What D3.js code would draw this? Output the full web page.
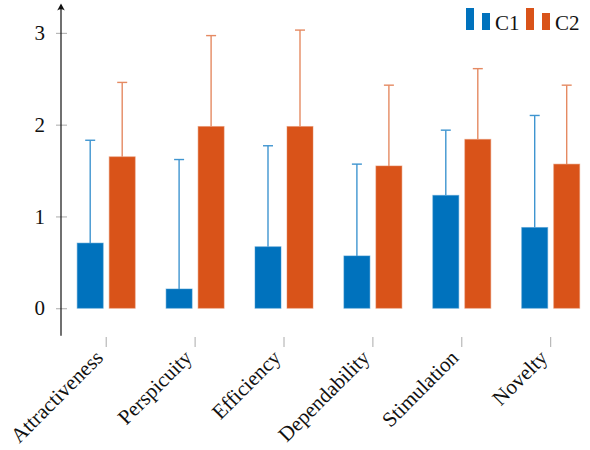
<!DOCTYPE html>
<html>
<head>
<meta charset="utf-8">
<script src="https://cdn.jsdelivr.net/npm/d3@7/dist/d3.min.js"></script>
<style>
  html, body { margin: 0; padding: 0; background: #fff; }
  svg { display: block; }
  text { font-family: "Liberation Serif", "Times New Roman", serif; fill: #111; }
</style>
</head>
<body>
<svg id="chart" width="590" height="450"></svg>
<script>
const categories = ["Attractiveness", "Perspicuity", "Efficiency", "Dependability", "Stimulation", "Novelty"];
const seriesNames = ["C1", "C2"];
const c1Values = [0.71, 0.21, 0.67, 0.57, 1.23, 0.88];
const c1Errors = [1.12, 1.41, 1.10, 1.00, 0.71, 1.22];
const c2Values = [1.65, 1.98, 1.98, 1.55, 1.84, 1.57];
const c2Errors = [0.81, 0.99, 1.05, 0.88, 0.77, 0.86];
const yTicks = [0, 1, 2, 3];
const colors = ["#0072BD", "#D95319"];
const strokeColors = ["#3f95d0", "#e58a62"];

const seriesValues = [c1Values, c2Values];
const seriesErrors = [c1Errors, c2Errors];

const svg = d3.select("#chart");

const y = d3.scaleLinear().domain([-0.3, 3.3]).range([335.8, 5.3]);
const x = d3.scaleBand().domain(categories).range([61.75, 61.75 + 6 * 88.9]).paddingInner(0).paddingOuter(0);
const xSub = d3.scaleBand().domain(seriesNames).range([x.bandwidth() / 2 - 29.5, x.bandwidth() / 2 + 29.5]).paddingInner(5 / 32).paddingOuter(0);

const axisX = 61;

// Y ticks (grey)
const yAxis = d3.axisLeft(y).tickValues(yTicks).tickSize(0).tickPadding(16).tickFormat(d3.format("d"));
const gy = svg.append("g").attr("transform", `translate(${axisX},0)`).call(yAxis);
gy.select(".domain").remove();
gy.selectAll(".tick text").style("font-size", "21px").style("font-family", "'Liberation Serif', serif").attr("fill", "#111");
gy.selectAll(".tick").append("line")
  .attr("x1", -5).attr("x2", 6).attr("y1", 0).attr("y2", 0)
  .attr("stroke", "#aaa").attr("stroke-width", 1);

// Bars
const groups = svg.append("g").selectAll("g.grp")
  .data(categories).join("g").attr("class", "grp")
  .attr("transform", d => `translate(${x(d)},0)`);

seriesNames.forEach((s, si) => {
  groups.append("rect")
    .attr("x", xSub(s) + 0.5)
    .attr("width", xSub.bandwidth() - 1)
    .attr("y", (d, i) => y(seriesValues[si][i]))
    .attr("height", (d, i) => y(0) - y(seriesValues[si][i]))
    .attr("fill", colors[si])
    .attr("stroke", strokeColors[si])
    .attr("stroke-opacity", 0.5)
    .attr("stroke-width", 1);
  // error bars (upper only)
  const cx = xSub(s) + xSub.bandwidth() / 2;
  groups.append("line")
    .attr("x1", cx).attr("x2", cx)
    .attr("y1", (d, i) => y(seriesValues[si][i]))
    .attr("y2", (d, i) => y(seriesValues[si][i] + seriesErrors[si][i]))
    .attr("stroke", strokeColors[si]).attr("stroke-width", 1.4);
  groups.append("line")
    .attr("x1", cx - 5).attr("x2", cx + 5)
    .attr("y1", (d, i) => y(seriesValues[si][i] + seriesErrors[si][i]))
    .attr("y2", (d, i) => y(seriesValues[si][i] + seriesErrors[si][i]))
    .attr("stroke", strokeColors[si]).attr("stroke-width", 1.4);
});

// X axis ticks and labels
const xAxis = d3.axisBottom(x).tickSize(0).tickPadding(0);
const gx = svg.append("g").attr("transform", `translate(0,337)`).call(xAxis);
gx.select(".domain").remove();
gx.selectAll(".tick").append("line")
  .attr("x1", 0).attr("x2", 0).attr("y1", 0).attr("y2", 10)
  .attr("stroke", "#aaa").attr("stroke-width", 1);
gx.selectAll(".tick text")
  .style("font-size", "21px")
  .style("font-family", "'Liberation Serif', serif")
  .attr("fill", "#111")
  .attr("text-anchor", "end")
  .attr("x", 0).attr("y", 0).attr("dy", 0)
  .attr("transform", "translate(-2,22) rotate(-45)");

// Y axis line with arrow
svg.append("line")
  .attr("x1", axisX).attr("x2", axisX)
  .attr("y1", y(-0.3)).attr("y2", 5)
  .attr("stroke", "#111").attr("stroke-width", 1.2);
svg.append("path")
  .attr("d", `M${axisX},3.5 L${axisX - 3.8},10.5 Q${axisX},8 ${axisX + 3.8},10.5 Z`)
  .attr("fill", "#111");

// Legend
const legendItems = [
  { name: seriesNames[0], x: 466 },
  { name: seriesNames[1], x: 526 }
];
const lg = svg.append("g").selectAll("g").data(legendItems).join("g")
  .attr("transform", d => `translate(${d.x},0)`);
lg.append("rect").attr("x", 0).attr("y", 8).attr("width", 8).attr("height", 22)
  .attr("fill", (d, i) => colors[i]);
lg.append("rect").attr("x", 16).attr("y", 13).attr("width", 8).attr("height", 17)
  .attr("fill", (d, i) => colors[i]);
lg.append("text").attr("x", 29).attr("y", 30)
  .style("font-size", "21px")
  .text(d => d.name);
</script>
</body>
</html>
